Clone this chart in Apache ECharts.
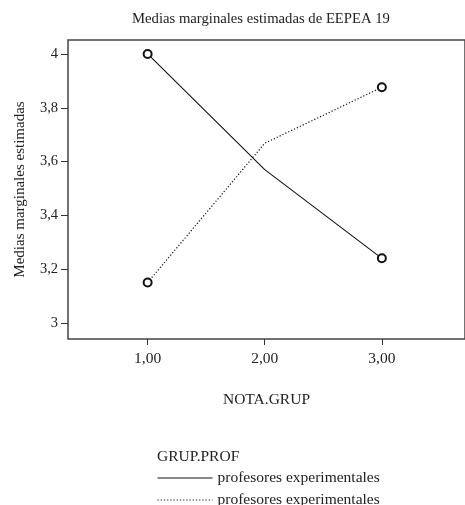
<!DOCTYPE html>
<html>
<head>
<meta charset="utf-8">
<script src="https://cdn.jsdelivr.net/npm/echarts@6/dist/echarts.min.js"></script>
<style>
html,body{margin:0;padding:0;background:#fff;}
#chart{width:465px;height:505px;}
</style>
</head>
<body>
<div id="chart"></div>
<script>
var notaGrup = [1, 2, 3];
var xTicks = [1, 2, 3];
var yTicks = [3, 3.2, 3.4, 3.6, 3.8, 4];
var grupoA = [4.0, 3.57, 3.24];     // línea continua
var grupoB = [3.15, 3.668, 3.876];  // línea punteada
var nombreA = 'profesores experimentales';
var nombreB = 'profesores experimentales\u200b';

var font = 'Liberation Serif';
var ink = '#222';

function puntos(vals){
    return vals.map(function(v, i){
        var d = {value: [notaGrup[i], v]};
        if (i !== 0 && i !== vals.length - 1) d.symbol = 'none';
        return d;
    });
}

var myChart = echarts.init(document.getElementById('chart'));
var option = {
    animation: false,
    textStyle: {fontFamily: font, color: ink},
    title: [
        {
            text: 'Medias marginales estimadas de EEPEA 19',
            left: 132, top: 12, padding: 0,
            textStyle: {fontFamily: font, fontSize: 14.7, fontWeight: 'normal', color: ink}
        },
        {
            text: 'GRUP.PROF',
            left: 157, top: 449, padding: 0,
            textStyle: {fontFamily: font, fontSize: 15.5, fontWeight: 'normal', color: ink}
        }
    ],
    grid: {
        left: 68, top: 40, right: -5, bottom: 166,
        show: true, borderColor: '#444', borderWidth: 1.5
    },
    xAxis: {
        type: 'value',
        min: 0.32, max: 3.71,
        name: 'NOTA.GRUP',
        nameLocation: 'middle',
        nameGap: 53,
        nameTextStyle: {fontFamily: font, fontSize: 15.5, color: ink},
        axisLine: {show: false},
        splitLine: {show: false},
        axisTick: {show: true, customValues: xTicks, length: 6, lineStyle: {color: '#333'}},
        axisLabel: {
            customValues: xTicks, margin: 12,
            fontFamily: font, fontSize: 15.5, color: ink,
            formatter: function(v){ return v.toFixed(2).replace('.', ','); }
        }
    },
    yAxis: {
        type: 'value',
        min: 2.94, max: 4.052,
        name: 'Medias marginales estimadas',
        nameLocation: 'middle',
        nameGap: 40,
        nameRotate: 90,
        nameTextStyle: {fontFamily: font, fontSize: 15, color: ink},
        axisLine: {show: false},
        splitLine: {show: false},
        axisTick: {show: true, customValues: yTicks, length: 7, lineStyle: {color: '#333'}},
        axisLabel: {
            customValues: yTicks, margin: 10,
            fontFamily: font, fontSize: 14.5, color: ink,
            formatter: function(v){ return String(Math.round(v * 10) / 10).replace('.', ','); }
        }
    },
    legend: {
        orient: 'vertical',
        left: 157, top: 470, height: 60, padding: 0,
        itemWidth: 55, itemHeight: 15, itemGap: 6,
        data: [nombreA, nombreB],
        itemStyle: {opacity: 0},
        lineStyle: {width: 1},
        textStyle: {fontFamily: font, fontSize: 15.5, color: ink},
        formatter: function(n){ return n.replace('\u200b', ''); }
    },
    series: [
        {
            name: nombreA,
            type: 'line',
            data: puntos(grupoA),
            symbol: 'emptyCircle',
            symbolSize: 8,
            itemStyle: {color: '#111', borderWidth: 0.7},
            lineStyle: {color: '#111', width: 1.1, type: 'solid'}
        },
        {
            name: nombreB,
            type: 'line',
            data: puntos(grupoB),
            symbol: 'emptyCircle',
            symbolSize: 8,
            itemStyle: {color: '#111', borderWidth: 0.7},
            lineStyle: {color: '#111', width: 1.2, type: [1.2, 2]}
        }
    ]
};
myChart.setOption(option);
</script>
</body>
</html>
